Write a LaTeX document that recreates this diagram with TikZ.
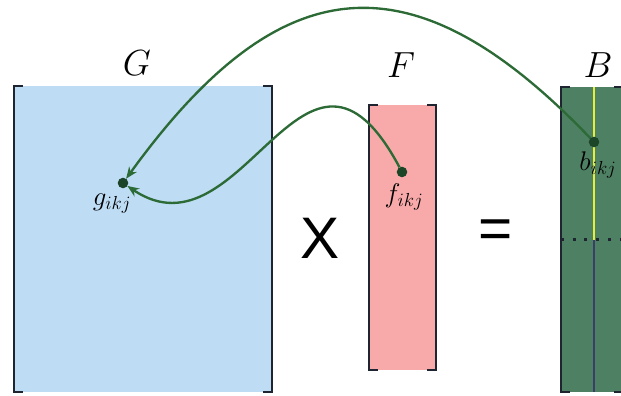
\RequirePackage{fix-cm}
\documentclass[tikz,border=0pt]{standalone}
\usepackage{fontspec}
\newfontfamily\opfont{Liberation Sans}
\usetikzlibrary{arrows.meta,calc}
\definecolor{gblue}{HTML}{BEDDF5}
\definecolor{fpink}{HTML}{F8A9A9}
\definecolor{bgreen}{HTML}{4E8063}
\definecolor{lgreen}{HTML}{2C6A36}
\definecolor{dgreen}{HTML}{1C4527}
\definecolor{brkc}{HTML}{1E2430}
\definecolor{byel}{HTML}{E6EE3A}
\definecolor{bline}{HTML}{3A3F6A}
\tikzset{mat/.style={draw=none, inner sep=0pt, outer sep=0pt},
  brk/.style={draw=brkc, line width=2.4pt},
  elem/.style={circle, fill=dgreen, inner sep=0pt, minimum size=9pt, outer sep=0pt},
  link/.style={draw=lgreen, line width=2pt, -{Stealth[length=10pt,width=8pt]}},
  mname/.style={font=\fontsize{31}{34}\selectfont},
  idx/.style={font=\fontsize{23}{25}\selectfont},
  opsym/.style={font=\opfont\fontsize{50}{54}\selectfont}}

\begin{document}
\begin{tikzpicture}[x=0.03cm, y=-0.03cm]
  \useasboundingbox (0,0) rectangle (621,395);
  \clip (0,0) rectangle (621,395);
  % matrices
  \node[mat, fill=gblue, minimum width=7.74cm, minimum height=9.18cm] (G) at (143,239) {};
  \node[mat, fill=fpink, minimum width=2.01cm, minimum height=7.95cm] (F) at (402.5,237.5) {};
  \node[mat, fill=bgreen, minimum width=1.86cm, minimum height=9.15cm] (B) at (592,239.5) {};
  % column of B
  \coordinate (Btop) at ($(B.north)+(2,0)$);
  \coordinate (Bmid) at ($(B.north)!0.5!(B.south)+(2,0)$);
  \coordinate (Bbot) at ($(B.south)+(2,0)$);
  \draw[byel, line width=1pt] (Btop) -- (Bmid);
  \draw[bline, line width=1pt] (Bmid) -- (Bbot);
  \draw[line width=2pt, dash pattern=on 2.5pt off 7.5pt, brkc] (B.west |- Bmid) -- (B.east |- Bmid);
  % brackets
  \foreach \m in {G,F,B}{
    \draw[brk] ($(\m.north west)+(9,0)$) -- (\m.north west) -- (\m.south west) -- ++(9,0);
    \draw[brk] ($(\m.north east)+(-9,0)$) -- (\m.north east) -- (\m.south east) -- ++(-9,0);}
  % names
  \node[mname] (Gn) at (137,63) {$G$};
  \node[mname] (Fn) at (401,65) {$F$};
  \node[mname] (Bn) at (598,65) {$B$};
  \node[opsym] (times) at (320,238) {X};
  \node[opsym] (eq) at (496,234) {=};
  % elements
  \node[elem] (g) at (123,183) {};
  \node[elem] (f) at (402,172) {};
  \node[elem] (b) at (594,142) {};
  \node[idx] (gl) at (112,204) {$g_{ikj}$};
  \node[idx] (fl) at (404,197) {$f_{ikj}$};
  \node[idx] (bl) at (598,165) {$b_{ikj}$};
  % links
  \draw[link] (b) .. controls (410,-50) and (278,-31) .. (g);
  \draw[link] (f) .. controls (305,-10) and (243,264) .. (g);
\end{tikzpicture}
\end{document}
